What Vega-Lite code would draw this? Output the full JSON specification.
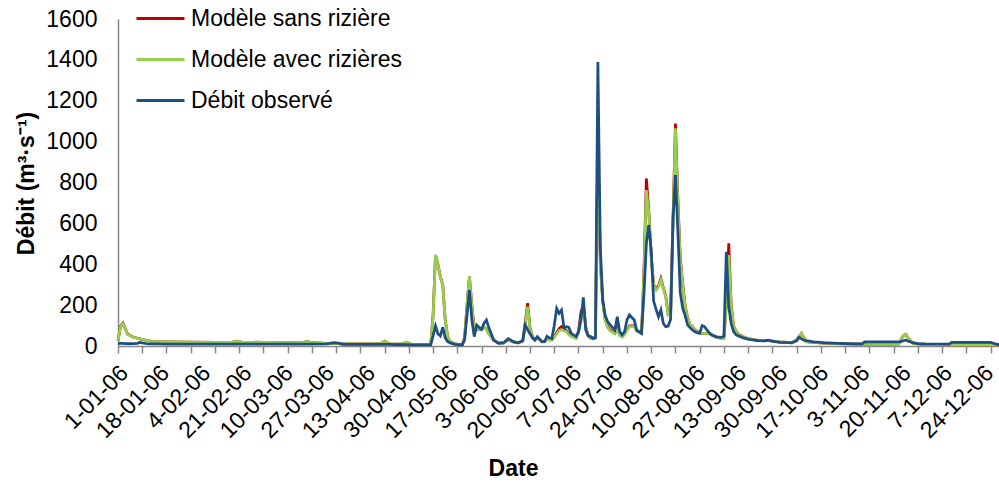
{
  "$schema": "https://vega.github.io/schema/vega-lite/v6.json",
  "width": 881,
  "height": 327,
  "autosize": {"type": "none"},
  "padding": {"left": 118, "top": 19, "right": 0, "bottom": 139},
  "background": "white",
  "config": {"view": {"stroke": null}, "font": "Liberation Sans"},
  "data": {"values": [
    {"date":"2006-01-01","sans":25,"avec":25,"obs":13},
    {"date":"2006-01-02","sans":95,"avec":92,"obs":13},
    {"date":"2006-01-03","sans":112,"avec":110,"obs":13},
    {"date":"2006-01-04","sans":85,"avec":83,"obs":12},
    {"date":"2006-01-05","sans":58,"avec":57,"obs":12},
    {"date":"2006-01-07","sans":45,"avec":44,"obs":12},
    {"date":"2006-01-09","sans":38,"avec":38,"obs":13},
    {"date":"2006-01-10","sans":35,"avec":35,"obs":18},
    {"date":"2006-01-11","sans":32,"avec":32,"obs":15},
    {"date":"2006-01-13","sans":27,"avec":27,"obs":11},
    {"date":"2006-01-15","sans":23,"avec":23,"obs":10},
    {"date":"2006-01-17","sans":21,"avec":21,"obs":10},
    {"date":"2006-01-21","sans":20,"avec":20,"obs":9},
    {"date":"2006-01-31","sans":19,"avec":19,"obs":9},
    {"date":"2006-02-10","sans":18,"avec":18,"obs":9},
    {"date":"2006-02-17","sans":18,"avec":18,"obs":9},
    {"date":"2006-02-19","sans":24,"avec":24,"obs":9},
    {"date":"2006-02-21","sans":19,"avec":19,"obs":9},
    {"date":"2006-03-02","sans":18,"avec":18,"obs":9},
    {"date":"2006-03-12","sans":17,"avec":17,"obs":9},
    {"date":"2006-03-18","sans":17,"avec":17,"obs":9},
    {"date":"2006-03-20","sans":22,"avec":22,"obs":9},
    {"date":"2006-03-22","sans":16,"avec":16,"obs":9},
    {"date":"2006-03-28","sans":13,"avec":13,"obs":10},
    {"date":"2006-03-31","sans":13,"avec":13,"obs":16},
    {"date":"2006-04-02","sans":11,"avec":11,"obs":14},
    {"date":"2006-04-04","sans":10,"avec":10,"obs":8},
    {"date":"2006-04-11","sans":10,"avec":10,"obs":8},
    {"date":"2006-04-19","sans":10,"avec":10,"obs":8},
    {"date":"2006-04-21","sans":24,"avec":24,"obs":8},
    {"date":"2006-04-23","sans":10,"avec":10,"obs":8},
    {"date":"2006-04-28","sans":9,"avec":9,"obs":7},
    {"date":"2006-04-30","sans":18,"avec":18,"obs":7},
    {"date":"2006-05-02","sans":8,"avec":8,"obs":6},
    {"date":"2006-05-10","sans":6,"avec":6,"obs":6},
    {"date":"2006-05-11","sans":150,"avec":140,"obs":50},
    {"date":"2006-05-12","sans":445,"avec":445,"obs":98},
    {"date":"2006-05-13","sans":400,"avec":400,"obs":60},
    {"date":"2006-05-14","sans":340,"avec":339,"obs":49},
    {"date":"2006-05-15","sans":298,"avec":298,"obs":91},
    {"date":"2006-05-16","sans":130,"avec":128,"obs":40},
    {"date":"2006-05-17","sans":45,"avec":45,"obs":22},
    {"date":"2006-05-18","sans":22,"avec":22,"obs":15},
    {"date":"2006-05-20","sans":10,"avec":10,"obs":8},
    {"date":"2006-05-23","sans":6,"avec":6,"obs":5},
    {"date":"2006-05-24","sans":40,"avec":40,"obs":30},
    {"date":"2006-05-25","sans":200,"avec":200,"obs":150},
    {"date":"2006-05-26","sans":340,"avec":339,"obs":274},
    {"date":"2006-05-27","sans":200,"avec":192,"obs":127},
    {"date":"2006-05-28","sans":80,"avec":75,"obs":46},
    {"date":"2006-05-29","sans":86,"avec":86,"obs":103},
    {"date":"2006-05-30","sans":80,"avec":80,"obs":91},
    {"date":"2006-05-31","sans":85,"avec":85,"obs":81},
    {"date":"2006-06-01","sans":91,"avec":91,"obs":110},
    {"date":"2006-06-02","sans":85,"avec":85,"obs":127},
    {"date":"2006-06-03","sans":60,"avec":58,"obs":90},
    {"date":"2006-06-04","sans":45,"avec":45,"obs":60},
    {"date":"2006-06-05","sans":28,"avec":28,"obs":29},
    {"date":"2006-06-07","sans":15,"avec":15,"obs":13},
    {"date":"2006-06-09","sans":15,"avec":15,"obs":15},
    {"date":"2006-06-11","sans":30,"avec":30,"obs":36},
    {"date":"2006-06-13","sans":20,"avec":20,"obs":22},
    {"date":"2006-06-15","sans":15,"avec":15,"obs":16},
    {"date":"2006-06-17","sans":25,"avec":25,"obs":25},
    {"date":"2006-06-18","sans":110,"avec":100,"obs":103},
    {"date":"2006-06-19","sans":210,"avec":192,"obs":80},
    {"date":"2006-06-20","sans":90,"avec":85,"obs":60},
    {"date":"2006-06-21","sans":45,"avec":45,"obs":40},
    {"date":"2006-06-22","sans":30,"avec":30,"obs":29},
    {"date":"2006-06-23","sans":40,"avec":40,"obs":46},
    {"date":"2006-06-25","sans":20,"avec":20,"obs":21},
    {"date":"2006-06-26","sans":22,"avec":22,"obs":21},
    {"date":"2006-06-27","sans":35,"avec":35,"obs":48},
    {"date":"2006-06-28","sans":30,"avec":30,"obs":40},
    {"date":"2006-06-29","sans":30,"avec":29,"obs":37},
    {"date":"2006-06-30","sans":45,"avec":45,"obs":100},
    {"date":"2006-07-01","sans":65,"avec":60,"obs":184},
    {"date":"2006-07-02","sans":85,"avec":75,"obs":160},
    {"date":"2006-07-03","sans":95,"avec":81,"obs":176},
    {"date":"2006-07-04","sans":85,"avec":75,"obs":91},
    {"date":"2006-07-05","sans":75,"avec":70,"obs":95},
    {"date":"2006-07-06","sans":60,"avec":55,"obs":91},
    {"date":"2006-07-07","sans":48,"avec":46,"obs":62},
    {"date":"2006-07-09","sans":38,"avec":37,"obs":46},
    {"date":"2006-07-10","sans":70,"avec":65,"obs":70},
    {"date":"2006-07-11","sans":165,"avec":127,"obs":127},
    {"date":"2006-07-12","sans":200,"avec":192,"obs":238},
    {"date":"2006-07-13","sans":95,"avec":88,"obs":78},
    {"date":"2006-07-14","sans":50,"avec":50,"obs":50},
    {"date":"2006-07-15","sans":37,"avec":37,"obs":46},
    {"date":"2006-07-16","sans":35,"avec":35,"obs":37},
    {"date":"2006-07-17","sans":50,"avec":50,"obs":40},
    {"date":"2006-07-18","sans":1020,"avec":990,"obs":1390},
    {"date":"2006-07-19","sans":410,"avec":400,"obs":480},
    {"date":"2006-07-20","sans":220,"avec":215,"obs":225},
    {"date":"2006-07-21","sans":130,"avec":127,"obs":150},
    {"date":"2006-07-22","sans":95,"avec":90,"obs":120},
    {"date":"2006-07-23","sans":80,"avec":75,"obs":105},
    {"date":"2006-07-25","sans":62,"avec":60,"obs":78},
    {"date":"2006-07-26","sans":86,"avec":78,"obs":143},
    {"date":"2006-07-27","sans":55,"avec":50,"obs":70},
    {"date":"2006-07-28","sans":46,"avec":44,"obs":55},
    {"date":"2006-07-29","sans":60,"avec":56,"obs":70},
    {"date":"2006-07-30","sans":80,"avec":76,"obs":127},
    {"date":"2006-07-31","sans":98,"avec":95,"obs":152},
    {"date":"2006-08-02","sans":98,"avec":95,"obs":127},
    {"date":"2006-08-03","sans":75,"avec":72,"obs":78},
    {"date":"2006-08-05","sans":62,"avec":62,"obs":62},
    {"date":"2006-08-06","sans":360,"avec":350,"obs":250},
    {"date":"2006-08-07","sans":820,"avec":763,"obs":500},
    {"date":"2006-08-08","sans":660,"avec":649,"obs":592},
    {"date":"2006-08-09","sans":440,"avec":437,"obs":470},
    {"date":"2006-08-10","sans":300,"avec":300,"obs":220},
    {"date":"2006-08-11","sans":280,"avec":274,"obs":180},
    {"date":"2006-08-12","sans":295,"avec":290,"obs":143},
    {"date":"2006-08-13","sans":330,"avec":323,"obs":176},
    {"date":"2006-08-14","sans":285,"avec":280,"obs":110},
    {"date":"2006-08-15","sans":245,"avec":241,"obs":95},
    {"date":"2006-08-16","sans":155,"avec":152,"obs":98},
    {"date":"2006-08-17","sans":165,"avec":160,"obs":130},
    {"date":"2006-08-18","sans":620,"avec":600,"obs":620},
    {"date":"2006-08-19","sans":1089,"avec":1065,"obs":836},
    {"date":"2006-08-20","sans":720,"avec":700,"obs":560},
    {"date":"2006-08-21","sans":430,"avec":420,"obs":260},
    {"date":"2006-08-22","sans":305,"avec":300,"obs":185},
    {"date":"2006-08-23","sans":195,"avec":192,"obs":150},
    {"date":"2006-08-24","sans":140,"avec":140,"obs":103},
    {"date":"2006-08-25","sans":105,"avec":103,"obs":90},
    {"date":"2006-08-26","sans":95,"avec":95,"obs":78},
    {"date":"2006-08-27","sans":80,"avec":80,"obs":70},
    {"date":"2006-08-28","sans":72,"avec":70,"obs":65},
    {"date":"2006-08-29","sans":65,"avec":65,"obs":62},
    {"date":"2006-08-30","sans":62,"avec":62,"obs":100},
    {"date":"2006-08-31","sans":62,"avec":62,"obs":95},
    {"date":"2006-09-01","sans":62,"avec":62,"obs":78},
    {"date":"2006-09-02","sans":60,"avec":60,"obs":65},
    {"date":"2006-09-03","sans":55,"avec":54,"obs":54},
    {"date":"2006-09-05","sans":42,"avec":42,"obs":45},
    {"date":"2006-09-07","sans":38,"avec":37,"obs":42},
    {"date":"2006-09-08","sans":38,"avec":37,"obs":48},
    {"date":"2006-09-09","sans":210,"avec":200,"obs":461},
    {"date":"2006-09-10","sans":502,"avec":445,"obs":192},
    {"date":"2006-09-11","sans":200,"avec":195,"obs":110},
    {"date":"2006-09-12","sans":98,"avec":95,"obs":70},
    {"date":"2006-09-13","sans":72,"avec":70,"obs":55},
    {"date":"2006-09-14","sans":56,"avec":54,"obs":49},
    {"date":"2006-09-16","sans":45,"avec":45,"obs":40},
    {"date":"2006-09-18","sans":36,"avec":35,"obs":33},
    {"date":"2006-09-22","sans":28,"avec":28,"obs":26},
    {"date":"2006-09-25","sans":26,"avec":26,"obs":25},
    {"date":"2006-09-26","sans":27,"avec":27,"obs":29},
    {"date":"2006-09-28","sans":24,"avec":24,"obs":24},
    {"date":"2006-10-01","sans":20,"avec":20,"obs":18},
    {"date":"2006-10-06","sans":16,"avec":16,"obs":16},
    {"date":"2006-10-08","sans":30,"avec":30,"obs":25},
    {"date":"2006-10-09","sans":45,"avec":45,"obs":42},
    {"date":"2006-10-10","sans":62,"avec":62,"obs":35},
    {"date":"2006-10-11","sans":40,"avec":40,"obs":28},
    {"date":"2006-10-12","sans":21,"avec":21,"obs":26},
    {"date":"2006-10-15","sans":18,"avec":18,"obs":20},
    {"date":"2006-10-19","sans":14,"avec":14,"obs":16},
    {"date":"2006-10-25","sans":12,"avec":12,"obs":13},
    {"date":"2006-11-02","sans":9,"avec":9,"obs":10},
    {"date":"2006-11-04","sans":9,"avec":9,"obs":10},
    {"date":"2006-11-05","sans":8,"avec":8,"obs":20},
    {"date":"2006-11-19","sans":8,"avec":8,"obs":20},
    {"date":"2006-11-20","sans":30,"avec":30,"obs":21},
    {"date":"2006-11-21","sans":50,"avec":50,"obs":26},
    {"date":"2006-11-22","sans":57,"avec":57,"obs":29},
    {"date":"2006-11-23","sans":40,"avec":40,"obs":24},
    {"date":"2006-11-25","sans":13,"avec":13,"obs":16},
    {"date":"2006-11-27","sans":10,"avec":10,"obs":12},
    {"date":"2006-11-30","sans":8,"avec":8,"obs":10},
    {"date":"2006-12-10","sans":5,"avec":5,"obs":9},
    {"date":"2006-12-11","sans":5,"avec":5,"obs":18},
    {"date":"2006-12-27","sans":5,"avec":5,"obs":18},
    {"date":"2006-12-29","sans":4,"avec":4,"obs":10},
    {"date":"2006-12-31","sans":4,"avec":4,"obs":5}
  ]},
  "transform": [{"fold": ["sans", "avec", "obs"], "as": ["serie", "debit"]}],
  "mark": {"type": "line", "strokeWidth": 2.75},
  "encoding": {
    "x": {
      "field": "date", "type": "temporal",
      "scale": {"type": "utc", "domain": [1136073600000, 1167480000000]},
      "axis": {
        "values": [1136073600000,1136937600000,1137542400000,1137801600000,1138665600000,1139011200000,1139529600000,1140393600000,1140480000000,1141257600000,1141948800000,1142121600000,1142985600000,1143417600000,1143849600000,1144713600000,1144886400000,1145577600000,1146355200000,1146441600000,1147305600000,1147824000000,1148169600000,1149033600000,1149292800000,1149897600000,1150761600000,1151625600000,1152230400000,1152489600000,1153353600000,1153699200000,1154217600000,1155081600000,1155168000000,1155945600000,1156636800000,1156809600000,1157673600000,1158105600000,1158537600000,1159401600000,1159574400000,1160265600000,1161043200000,1161129600000,1161993600000,1162512000000,1162857600000,1163721600000,1163980800000,1164585600000,1165449600000,1166313600000,1166918400000,1167177600000],
        "labelExpr": "round((datum.value - 1136073600000) / 86400000) % 17 === 0 ? utcFormat(datum.value, '%-d-%m-%y') : ''",
        "tickOpacity": {"condition": {"test": "round((datum.value - 1136073600000) / 86400000) % 10 === 0", "value": 1}, "value": 0},
        "title": "Date",
        "titleFontSize": 23, "titleFontWeight": "bold", "titleColor": "black",
        "titleX": 395, "titleY": 122, "titleAlign": "center", "titleBaseline": "middle",
        "labelAngle": -45, "labelAlign": "right", "labelBaseline": "middle",
        "labelFontSize": 23, "labelColor": "black", "labelPadding": 16, "labelOffset": 6,
        "labelOverlap": false, "labelBound": false, "labelFlush": false,
        "tickSize": 7, "tickColor": "#868686", "tickWidth": 1.5,
        "domainColor": "#868686", "domainWidth": 1.5, "grid": false
      }
    },
    "y": {
      "field": "debit", "type": "quantitative",
      "scale": {"domain": [0, 1600]},
      "axis": {
        "values": [0, 200, 400, 600, 800, 1000, 1200, 1400, 1600],
        "format": "d",
        "title": "Débit (m³·s⁻¹)",
        "titleFontSize": 23, "titleFontWeight": "bold", "titleColor": "black",
        "titleX": -92, "titleY": 164, "titleAlign": "center", "titleBaseline": "middle",
        "labelFontSize": 23, "labelColor": "black", "labelPadding": 21,
        "ticks": false, "domainColor": "#868686", "domainWidth": 1.5, "grid": false
      }
    },
    "color": {
      "field": "serie", "type": "nominal",
      "scale": {"domain": ["sans", "avec", "obs"], "range": ["#c00000", "#92d050", "#1f4e80"]},
      "legend": {
        "orient": "none", "legendX": 17, "legendY": -26, "title": null, "padding": 0,
        "labelExpr": "datum.value === 'sans' ? 'Modèle sans rizière' : datum.value === 'avec' ? 'Modèle avec rizières' : 'Débit observé'",
        "symbolType": "stroke", "symbolSize": 2304, "symbolStrokeWidth": 3,
        "labelFontSize": 23, "labelColor": "black", "labelOffset": 5, "rowPadding": 3, "labelLimit": 0
      }
    }
  }
}
